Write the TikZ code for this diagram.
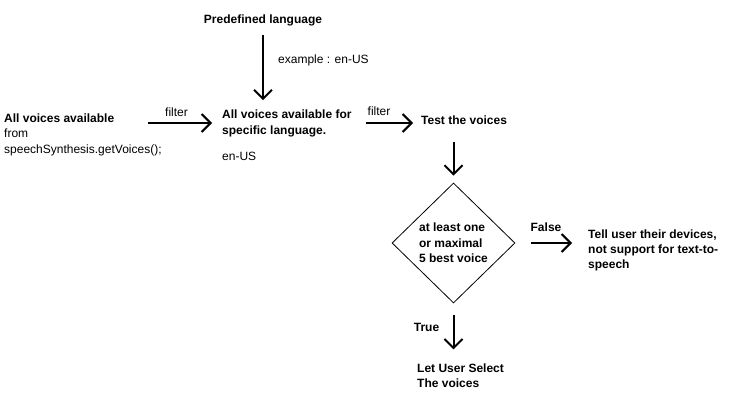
\documentclass[tikz,border=0pt]{standalone}
\usepackage{fontspec}
\setmainfont{Liberation Sans}
\usetikzlibrary{arrows.meta,shapes.geometric}

\begin{document}
\begin{tikzpicture}[x=1pt,y=-1pt,
  txt/.style={inner sep=0pt,font=\fontsize{12}{16}\selectfont,align=left},
  btxt/.style={txt,font=\fontsize{12}{16}\selectfont\bfseries},
  lbl/.style={inner sep=0pt,font=\fontsize{12}{14}\selectfont},
  arr/.style={line width=2pt,-{Straight Barb[length=9pt,width=18pt]}}]
\useasboundingbox (0,0) rectangle (743,404);

\node[btxt] (pre) at (263,20) {Predefined language};
\node[lbl,anchor=west] (exa) at (278,60) {example : en-US};

\node[btxt,anchor=west] (all) at (4,118) {All voices available};
\node[txt,anchor=west] (allsrc) at (4,142) {from\\speechSynthesis.getVoices();};

\node[btxt,anchor=west] (spec) at (222,123) {All voices available for\\specific language.};
\node[txt,anchor=west] (enus) at (222,156) {en-US};

\node[btxt,anchor=west] (test) at (421,120) {Test the voices};

\node[draw,diamond,line width=0.8pt,minimum width=123pt,minimum height=120pt,
  inner sep=0pt] (dec) at (453.5,243) {};
\node[btxt,font=\fontsize{12}{15.5}\selectfont\bfseries] (dectxt) at (dec) {at least one\\or maximal\\5 best voice};

\node[btxt,anchor=west,font=\fontsize{12}{15}\selectfont\bfseries] (tell) at (588,250)
  {Tell user their devices,\\not support for text-to-\\speech};
\node[btxt,anchor=west,font=\fontsize{12}{15}\selectfont\bfseries] (sel) at (417,375.5)
  {Let User Select\\The voices};

\node[lbl] (filt1) at (176.5,112) {filter};
\node[lbl] (filt2) at (379,111) {filter};
\node[lbl,font=\fontsize{12}{14}\selectfont\bfseries] (false) at (546,227) {False};
\node[lbl,font=\fontsize{12}{14}\selectfont\bfseries] (true) at (426.5,327) {True};

\draw[arr,shorten <=9pt,shorten >=9pt] (pre.south) -- (pre.south |- spec.north);
\draw[arr,shorten <=34pt,shorten >=10pt] (all.east |- spec.west) -- (spec.west);
\draw[arr,shorten <=14pt,shorten >=8pt] (spec.east) -- (spec.east -| test.west);
\draw[arr,shorten <=17pt,shorten >=7pt] (test.south -| dec.north) -- (dec.north);
\draw[arr,shorten <=16pt,shorten >=16pt] (dec.east) -- (dec.east -| tell.west);
\draw[arr,shorten <=12pt,shorten >=14pt] (dec.south) -- (dec.south |- sel.north);
\end{tikzpicture}
\end{document}
